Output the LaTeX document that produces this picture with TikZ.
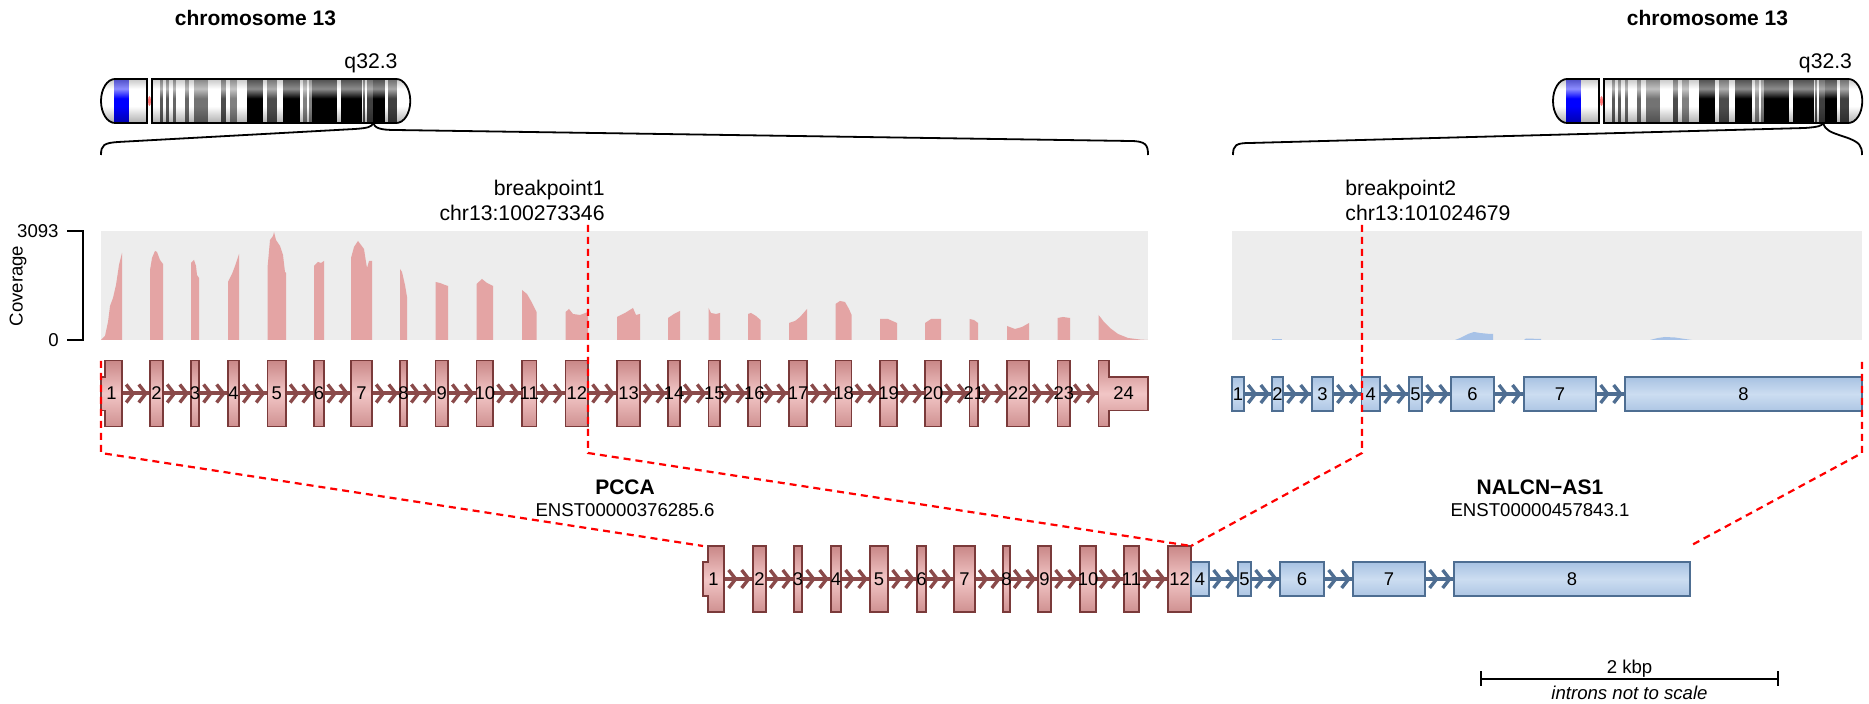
\documentclass[tikz,border=0pt]{standalone}
\usepackage{fontspec}
\setmainfont{Liberation Sans}
\definecolor{covred}{HTML}{E4A4A4}
\definecolor{covblue}{HTML}{A7C2E7}
\definecolor{panel}{HTML}{EDEDED}
\definecolor{rexA}{HTML}{C98787}
\definecolor{rexB}{HTML}{F2C6C6}
\definecolor{rexC}{HTML}{7A3A3A}
\definecolor{bexA}{HTML}{A8C2E2}
\definecolor{bexB}{HTML}{CCDDF1}
\definecolor{bexC}{HTML}{4E6E92}
\definecolor{rint}{HTML}{8A4A4A}
\definecolor{bint}{HTML}{4F6E92}
\colorlet{bandc}{white}
\pgfdeclareverticalshading[bandc]{bandshade}{100bp}{color(0bp)=(bandc!68!black); color(25bp)=(bandc!68!black); color(44bp)=(bandc); color(53bp)=(bandc); color(64bp)=(bandc!45!white); color(75bp)=(bandc!60!white!78!black); color(100bp)=(bandc!60!white!78!black)}
\tikzset{
  ttl/.style={font=\bfseries\fontsize{10.5}{12}\selectfont, inner sep=0pt},
  lbl/.style={font=\fontsize{10.6}{12}\selectfont, inner sep=0pt},
  sml/.style={font=\fontsize{9.3}{11}\selectfont, inner sep=0pt},
  smlit/.style={font=\itshape\fontsize{9.3}{11}\selectfont, inner sep=0pt},
  exlbl/.style={font=\fontsize{9.2}{10}\selectfont, inner sep=0pt},
  rexon/.style={top color=rexA, bottom color=rexA!85!rexB, middle color=rexB, draw=rexC, line width=0.6pt},
  bexon/.style={top color=bexA, bottom color=bexA!85!bexB, middle color=bexB, draw=bexC, line width=0.6pt},
  cutline/.style={red, dash pattern=on 3.5pt off 2.5pt, line width=1.1pt},
  brace/.style={black, line width=0.9pt}
}
\newcommand{\fcChrom}[1]{%
\begin{scope}[shift={(#1,0)}]
\begin{scope}
\clip (14,79) -- (46,79) -- (46,123) -- (14,123) arc[start angle=90,end angle=270,x radius=14,y radius=22] -- cycle;
\foreach \a/\b/\c in {0/13.7/white,13.7/28.7/blue,28.7/46.5/white}{\colorlet{bandc}{\c}\shade[shading=bandshade] (\a,79) rectangle (\b,123);}
\end{scope}
\begin{scope}
\clip (51,79) -- (295.3,79) arc[start angle=-90,end angle=90,x radius=14,y radius=22] -- (51,123) -- cycle;
\foreach \a/\b/\c in {50/59.7/white,59.7/62.3/black!65,62.3/65.7/white,65.7/68/black!65,68/72.3/white,72.3/75/black!60,75/84/white,84/88/black!60,88/93.3/white,93.3/107.3/black!55,107.3/120.7/white,120.7/125.3/black!70,125.3/129.3/white,129.3/136/black!50,136/146/white,146/162.7/black,162.7/166/white,166/176/black!70,176/182.7/white,182.7/199.3/black,199.3/202/white,202/206/black!50,206/208.7/white,208.7/211/black!50,211/236/black,236/240/white,240/261/black,261/262.7/white,262.7/264.3/black!70,264.3/266.7/white,266.7/272.7/black!75,272.7/284.3/black,284.3/287.7/white,287.7/296/black!75,296/310/white}{\colorlet{bandc}{\c}\shade[shading=bandshade] (\a,79) rectangle (\b,123);}
\end{scope}
\fill[red!55!white] (48.5,101) ellipse [x radius=1.5, y radius=5];
\draw[line width=0.9pt] (14,79) -- (46,79) -- (46,123) -- (14,123) arc[start angle=90,end angle=270,x radius=14,y radius=22] -- cycle;
\draw[line width=0.9pt] (51,79) -- (295.3,79) arc[start angle=-90,end angle=90,x radius=14,y radius=22] -- (51,123) -- cycle;
\end{scope}}
\newcommand{\fcIntron}[4]{%
\draw[#4, line width=2pt] (#1,#3) -- (#2,#3);
\foreach \f in {0.4,0.85}{\draw[#4, line width=1.7pt, line join=miter] ({#1+\f*(#2-#1)-7},#3-9) -- ({#1+\f*(#2-#1)},#3) -- ({#1+\f*(#2-#1)-7},#3+9);}}
\newcommand{\fcRexon}[5]{\shade[rexon] (#2,#4-33) rectangle (#3,#4+33); \node[exlbl] (#1) at ({(#2+#3)/2},#4) {#5};}
\newcommand{\fcBexon}[5]{\shade[bexon] (#2,#4-17) rectangle (#3,#4+17); \node[exlbl] (#1) at ({(#2+#3)/2},#4) {#5};}

\begin{document}
\begin{tikzpicture}[x=0.5pt,y=-0.5pt]
\useasboundingbox (0,0) rectangle (1869,704);
\node[ttl] (chrL) at (255.5,18) {chromosome 13};
\node[ttl] (chrR) at (1707.5,18) {chromosome 13};
\node[lbl] (bandL) at (371,63) {q32.3};
\node[lbl] (bandR) at (1825.5,63) {q32.3};
\fcChrom{101}
\fcChrom{1553}
\coordinate (lbA) at (101,155);
\coordinate (lbM) at (373,123);
\coordinate (lbB) at (1148,155);
\coordinate (rbA) at (1233,155);
\coordinate (rbM) at (1823,123);
\coordinate (rbB) at (1862,155);
\draw[brace] (lbA) .. controls (101,145) and (104,143) .. (118,142) -- (355,129) .. controls (368,128) and (372,127) .. (lbM);
\draw[brace] (lbM) .. controls (375,128) and (380,130) .. (395,130) -- (1130,141) .. controls (1146,141) and (1148,145) .. (lbB);
\draw[brace] (rbA) .. controls (1233,145) and (1236,143) .. (1250,143) -- (1805,128) .. controls (1818,127) and (1822,126) .. (rbM);
\draw[brace] (rbM) .. controls (1826,131) and (1830,132) .. (1845,137) .. controls (1860,142) and (1862,146) .. (rbB);
\fill[panel] (101,231) rectangle (1148,340);
\fill[panel] (1232,231) rectangle (1862,340);
\fill[covred] (101,340) -- (105,336) -- (108,322) -- (110,306) -- (113,298) -- (116,285) -- (119,265) -- (122,253) -- (122,340) -- cycle;
\fill[covred] (150,340) -- (150,270) -- (152,258) -- (155,251) -- (157,252) -- (160,260) -- (163,264) -- (163,340) -- cycle;
\fill[covred] (191,340) -- (191,263) -- (194,260) -- (196,266) -- (197,275) -- (199,278) -- (199,340) -- cycle;
\fill[covred] (228,340) -- (228,282) -- (232,274) -- (235,266) -- (239,254) -- (239,340) -- cycle;
\fill[covred] (267.5,340) -- (267.5,268) -- (270,240) -- (273,236) -- (274,232) -- (276,240) -- (280,246) -- (283,255) -- (285,272) -- (286,273) -- (286,340) -- cycle;
\fill[covred] (314,340) -- (314,266) -- (318,262) -- (321,263) -- (324,261) -- (324,340) -- cycle;
\fill[covred] (351,340) -- (351,258) -- (354,247) -- (358,241) -- (361,245) -- (364,249) -- (366,262) -- (367,268) -- (369,261) -- (372,261) -- (372,340) -- cycle;
\fill[covred] (400,340) -- (400,269) -- (402,272) -- (405,285) -- (407,297) -- (407,340) -- cycle;
\fill[covred] (435.5,340) -- (435.5,282) -- (440,283) -- (445,285) -- (448,286) -- (448,340) -- cycle;
\fill[covred] (476.5,340) -- (476.5,284) -- (482,279) -- (487,283) -- (493,286) -- (493,340) -- cycle;
\fill[covred] (522,340) -- (522,290) -- (527,294) -- (531,301) -- (536.5,312) -- (536.5,340) -- cycle;
\fill[covred] (565.6,340) -- (565.6,312) -- (569,309) -- (573,314) -- (580,315) -- (588,312) -- (588,340) -- cycle;
\fill[covred] (617,340) -- (617,317) -- (625,313) -- (633,308) -- (636,315) -- (640,314) -- (640,340) -- cycle;
\fill[covred] (668,340) -- (668,318) -- (674,314) -- (680,311) -- (680,340) -- cycle;
\fill[covred] (708.5,340) -- (708.5,308) -- (711,313) -- (716,314) -- (720,313) -- (720,340) -- cycle;
\fill[covred] (748,340) -- (748,314) -- (751,313) -- (756,316) -- (760.5,320) -- (760.5,340) -- cycle;
\fill[covred] (789,340) -- (789,323) -- (795,321) -- (800,317) -- (807,309) -- (807,340) -- cycle;
\fill[covred] (835.5,340) -- (835.5,304) -- (840,301) -- (845,302) -- (849,309) -- (851.6,315) -- (851.6,340) -- cycle;
\fill[covred] (880,340) -- (880,319) -- (888,319) -- (897,323) -- (897,340) -- cycle;
\fill[covred] (925,340) -- (925,323) -- (931,319) -- (941,319) -- (941,340) -- cycle;
\fill[covred] (969.5,340) -- (969.5,319) -- (974,320) -- (978,323) -- (978,340) -- cycle;
\fill[covred] (1007,340) -- (1007,326) -- (1015,329) -- (1022,327) -- (1029,323) -- (1029,340) -- cycle;
\fill[covred] (1057.5,340) -- (1057.5,318) -- (1063,317) -- (1070,318) -- (1070,340) -- cycle;
\fill[covred] (1098.5,340) -- (1098.5,315) -- (1101,318) -- (1104,322) -- (1110,328) -- (1118,334) -- (1128,338) -- (1140,339.5) -- (1148,340) -- cycle;
\fill[covblue] (1455,340) -- (1460,338) -- (1468,334) -- (1474,332) -- (1480,333) -- (1490,334) -- (1493,334) -- (1493,340) -- cycle;
\fill[covblue] (1650,340) -- (1658,338) -- (1665,337) -- (1675,337.5) -- (1685,339) -- (1692,340) -- cycle;
\fill[covblue] (1272,340) -- (1272,339) -- (1282,339) -- (1282,340) -- cycle;
\fill[covblue] (1524,340) -- (1526,338.5) -- (1541,339) -- (1541,340) -- cycle;
\coordinate (axT) at (83,231);
\coordinate (axB) at (83,340);
\draw[line width=0.9pt] ([xshift=-8pt]axT) -- (axT) -- (axB) -- ([xshift=-8pt]axB);
\node[sml, anchor=east] (ymax) at (59,231) {3093};
\node[sml, anchor=east] (ymin) at (59,340) {0};
\node[sml, rotate=90] (ylab) at (18,286) {Coverage};
\node[lbl, anchor=east] (bp1a) at (605,190) {breakpoint1};
\node[lbl, anchor=east] (bp1b) at (605,213) {chr13:100273346};
\node[lbl, anchor=west] (bp2a) at (1345,190) {breakpoint2};
\node[lbl, anchor=west] (bp2b) at (1345,213) {chr13:101024679};
\foreach \a/\b in {122/150,163/191,199/228,239/267.5,286/314,324/351,372/400,407/435.5,448/476.5,493/522,536.5/565.6,588/617,640/668,680/708.5,720/748,760.5/789,807/835.5,851.6/880,897/925,941/969.5,978/1007,1029/1057.5,1070/1098.5} {\fcIntron{\a}{\b}{393.5}{rint}}
\foreach \a/\b in {1244/1272,1283/1312,1333/1361.5,1380/1409,1422/1451,1494/1524,1596/1625} {\fcIntron{\a}{\b}{394}{bint}}
\foreach \a/\b in {724/753,766/794,802/831,841/870,888/917,926/954,975/1003,1010/1038,1051/1080,1096/1124,1139/1168} {\fcIntron{\a}{\b}{579}{rint}}
\foreach \a/\b in {1209/1238,1251/1280,1324/1353,1425/1454} {\fcIntron{\a}{\b}{579}{bint}}
\shade[rexon] (101,377) -- (105,377) -- (105,360.5) -- (122,360.5) -- (122,426.5) -- (105,426.5) -- (105,410.5) -- (101,410.5) -- cycle;
\node[exlbl] (r1) at (111.5,393.5) {1};
\fcRexon{r2}{150}{163}{393.5}{2}
\fcRexon{r3}{191}{199}{393.5}{3}
\fcRexon{r4}{228}{239}{393.5}{4}
\fcRexon{r5}{267.5}{286}{393.5}{5}
\fcRexon{r6}{314}{324}{393.5}{6}
\fcRexon{r7}{351}{372}{393.5}{7}
\fcRexon{r8}{400}{407}{393.5}{8}
\fcRexon{r9}{435.5}{448}{393.5}{9}
\fcRexon{r10}{476.5}{493}{393.5}{10}
\fcRexon{r11}{522}{536.5}{393.5}{11}
\fcRexon{r12}{565.6}{588}{393.5}{12}
\fcRexon{r13}{617}{640}{393.5}{13}
\fcRexon{r14}{668}{680}{393.5}{14}
\fcRexon{r15}{708.5}{720}{393.5}{15}
\fcRexon{r16}{748}{760.5}{393.5}{16}
\fcRexon{r17}{789}{807}{393.5}{17}
\fcRexon{r18}{835.5}{851.6}{393.5}{18}
\fcRexon{r19}{880}{897}{393.5}{19}
\fcRexon{r20}{925}{941}{393.5}{20}
\fcRexon{r21}{969.5}{978}{393.5}{21}
\fcRexon{r22}{1007}{1029}{393.5}{22}
\fcRexon{r23}{1057.5}{1070}{393.5}{23}
\shade[rexon] (1098.5,360.5) -- (1109,360.5) -- (1109,377) -- (1148,377) -- (1148,410.5) -- (1109,410.5) -- (1109,426.5) -- (1098.5,426.5) -- cycle;
\node[exlbl] (r24) at (1123.5,393.5) {24};
\fcBexon{b1}{1232}{1244}{394}{1}
\fcBexon{b2}{1272}{1283}{394}{2}
\fcBexon{b3}{1312}{1333}{394}{3}
\fcBexon{b4}{1361.5}{1380}{394}{4}
\fcBexon{b5}{1409}{1422}{394}{5}
\fcBexon{b6}{1451}{1494}{394}{6}
\fcBexon{b7}{1524}{1596}{394}{7}
\fcBexon{b8}{1625}{1862}{394}{8}
\shade[rexon] (703,562) -- (708,562) -- (708,546) -- (724,546) -- (724,612) -- (708,612) -- (708,596) -- (703,596) -- cycle;
\node[exlbl] (fr1) at (713.5,579) {1};
\fcRexon{fr2}{753}{766}{579}{2}
\fcRexon{fr3}{794}{802}{579}{3}
\fcRexon{fr4}{831}{841}{579}{4}
\fcRexon{fr5}{870}{888}{579}{5}
\fcRexon{fr6}{917}{926}{579}{6}
\fcRexon{fr7}{954}{975}{579}{7}
\fcRexon{fr8}{1003}{1010}{579}{8}
\fcRexon{fr9}{1038}{1051}{579}{9}
\fcRexon{fr10}{1080}{1096}{579}{10}
\fcRexon{fr11}{1124}{1139}{579}{11}
\fcRexon{fr12}{1168}{1191}{579}{12}
\fcBexon{fb4}{1191}{1209}{579}{4}
\fcBexon{fb5}{1238}{1251}{579}{5}
\fcBexon{fb6}{1280}{1324}{579}{6}
\fcBexon{fb7}{1353}{1425}{579}{7}
\fcBexon{fb8}{1454}{1690}{579}{8}
\node[ttl] (g1) at (625,487) {PCCA};
\node[sml] (g1t) at (625,510) {ENST00000376285.6};
\node[ttl] (g2) at (1540,487) {NALCN−AS1};
\node[sml] (g2t) at (1540,510) {ENST00000457843.1};
\coordinate (cL1) at (101,361);
\coordinate (cL2) at (101,453);
\coordinate (cL3) at (703,546);
\coordinate (cA1) at (588,225);
\coordinate (cA2) at (588,453);
\coordinate (cJ) at (1191,546);
\coordinate (cB1) at (1362,225);
\coordinate (cB2) at (1362,453);
\coordinate (cR1) at (1862,362);
\coordinate (cR2) at (1862,453);
\coordinate (cR3) at (1690,546);
\draw[cutline] (cL1) -- (cL2) -- (cL3);
\draw[cutline] (cA1) -- (cA2) -- (cJ);
\draw[cutline] (cB1) -- (cB2) -- (cJ);
\draw[cutline] (cR1) -- (cR2) -- (cR3);
\coordinate (sbL) at (1481,679);
\coordinate (sbR) at (1778,679);
\draw[line width=0.9pt] (sbL) -- (sbR);
\draw[line width=0.9pt] ([yshift=3.75pt]sbL) -- ([yshift=-3.75pt]sbL);
\draw[line width=0.9pt] ([yshift=3.75pt]sbR) -- ([yshift=-3.75pt]sbR);
\node[sml] (sbt) at (1629.5,669) {2 kbp};
\node[smlit] (sbn) at (1629.5,692.5) {introns not to scale};
\end{tikzpicture}
\end{document}
